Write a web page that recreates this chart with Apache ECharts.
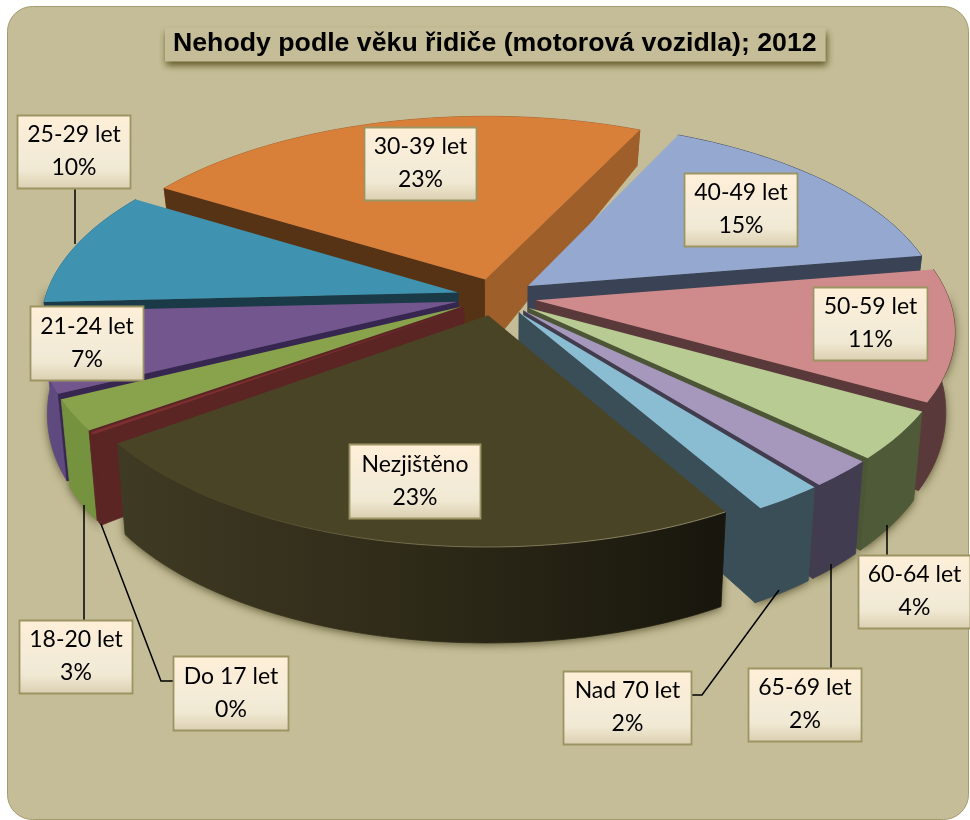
<!DOCTYPE html>
<html><head><meta charset="utf-8">
<style>html,body{margin:0;padding:0;background:#fff}#c{width:970px;height:820px}</style>
<script src="https://cdn.jsdelivr.net/npm/echarts@6/dist/echarts.min.js"></script>
</head><body><div id="c"></div>
<script>
const titleText = 'Nehody podle věku řidiče (motorová vozidla); 2012';
const categories = ['30-39 let','40-49 let','50-59 let','60-64 let','65-69 let','Nad 70 let','Nezjištěno','Do 17 let','18-20 let','21-24 let','25-29 let'];
const shares = [23.2,15.4,10.8,3.95,2.25,2.35,23.2,0.2,2.55,6.55,9.6];

const topColors  = ['#D87F3A','#95A8D0','#CF8B8B','#B7CB92','#A697BD','#8BBDD2','#4A4426','#7C2F2E','#88A34B','#73568D','#4093B0'];
const sideColors = ['#9E5F2A','#3A4256','#5A393A','#4C5636','#413C4E','#3A4E57','#1F1C10','#5B2524','#5B7030','#362650','#193A46'];
const startWallColors = ['#573316','#3A4256','#5A393A','#4C5636','#413C4E','#3A4E57','#1F1C10','#5B2524','#5B2524','#362650','#193A46'];
const outerColors = [['#9E5F2A','#9E5F2A'],['#3A4256','#3A4256'],['#5A393A','#5A393A'],['#4E5A38','#4E5A38'],['#413C4F','#413C4F'],['#3A4E57','#3A4E57'],['#3F3A23','#2E2A18','#18160D'],['#5B2524','#5B2524'],['#75923E','#75923E'],['#5F4A80','#5F4A80'],['#2E6F86','#2E6F86']];
const rimSlices = [6];
// label boxes [left, top, right, bottom]
const labelBoxes = [[364,127,476,200],[684,173,797,246],[813,287,927,360],[858,555,970,628],[748,668,861,741],[563,671,691,744],[349,444,480,518],[173,656,288,730],[19,620,132,693],[30,306,143,380],[17,115,130,188]];
// leader lines, per category
const leaders = [null,null,null,[[887,555],[887,525]],[[831,668],[831,564]],[[691,695],[702,695],[779,590]],null,[[173,681],[161,681],[101,524]],[[84,620],[84,505]],null,[[75,188],[75,244]]];

const START = -58.3, CX = 496.5, CY = 297, RX = 419, RY = 194.8, P = 0.1487, EXPLODE = 0.095, R = 0.985;
const total = shares.reduce((a,b)=>a+b,0);
let acc = START;
const spans = shares.map(v=>{const s=acc, e=acc+v/total*360; acc=e; return [s,e];});
const rad = d=>d*Math.PI/180;
const depthRank = spans.map((s,i)=>[-Math.cos(rad((s[0]+s[1])/2)),i]).sort((a,b)=>a[0]-b[0]).map(a=>a[1]);

function upper(X,Y){const s=1/(1-P*Y);return [CX+RX*X*s, CY+RY*Y*s];}
function lower(X,Y){const q=upper(X,Y);const d=75.6+30*Y-10.4*Y*Y;return [CX+(q[0]-CX)*0.98,q[1]+d];}

function renderSlice(params, api){
  const i = api.value(0);
  const [a0,a1] = spans[i];
  const m = rad((a0+a1)/2);
  const ax = EXPLODE*Math.sin(m), ay = -EXPLODE*Math.cos(m);
  const arc=[], front=[];
  const n=Math.max(2,Math.ceil((a1-a0)/1.5));
  for(let k=0;k<=n;k++){
    const t=rad(a0+(a1-a0)*k/n), pt=[ax+R*Math.sin(t),ay-R*Math.cos(t)];
    arc.push(pt);
    if(Math.cos(t)<0.05) front.push(pt);
  }
  const rank = depthRank.indexOf(i)*10+10;
  const kids=[];
  const poly=(pts,fill,z,extra)=>kids.push({type:'polygon',z2:z,silent:true,shape:{points:pts},style:Object.assign({fill:fill,stroke:null},extra||{})});
  // soft ground shadow, below every slice, only under the front of the pie
  if(front.length>1){
    poly(front.map(p=>upper(p[0],p[1])).concat(front.slice().reverse().map(p=>lower(p[0],p[1]))),'#8f8758',1,{shadowBlur:9,shadowColor:'rgba(70,64,30,0.8)',shadowOffsetY:2});
  }
  // outer wall
  const o=outerColors[i];
  const oFill=new echarts.graphic.LinearGradient(0,0,1,0,o.map((c,j)=>({offset:j/(o.length-1),color:c})));
  poly(arc.map(p=>upper(p[0],p[1])).concat(arc.slice().reverse().map(p=>lower(p[0],p[1]))),oFill,rank,{stroke:oFill,lineWidth:0.8});
  // radial walls that face the viewer
  const wall=(p,color)=>poly([upper(ax,ay),upper(p[0],p[1]),lower(p[0],p[1]),lower(ax,ay)],color,rank+1,{stroke:color,lineWidth:0.8});
  if(Math.sin(rad(a0))<0) wall(arc[0],startWallColors[i]);
  if(Math.sin(rad(a1))>0) wall(arc[arc.length-1],sideColors[i]);
  // top face
  poly([upper(ax,ay)].concat(arc.map(p=>upper(p[0],p[1]))),topColors[i],rank+2);
  if(rimSlices.includes(i)){
    kids.push({type:'polyline',z2:rank+3,silent:true,shape:{points:arc.map(p=>upper(p[0],p[1]))},style:{fill:null,lineWidth:1,
      stroke:new echarts.graphic.LinearGradient(1,0,0,0,[{offset:0,color:'rgba(215,205,165,0.55)'},{offset:.55,color:'rgba(215,205,165,0.3)'},{offset:.8,color:'rgba(215,205,165,0)'},{offset:1,color:'rgba(215,205,165,0)'}])}});
  }
  // leader
  if(leaders[i]) kids.push({type:'polyline',z2:900,silent:true,shape:{points:leaders[i]},style:{stroke:'#000',lineWidth:1.5,fill:null}});
  // label
  const b=labelBoxes[i];
  kids.push({type:'rect',z2:1000,silent:true,shape:{x:b[0]+.5,y:b[1]+.5,width:b[2]-b[0],height:b[3]-b[1]},
    style:{stroke:'#9C9563',lineWidth:1.8,fill:new echarts.graphic.LinearGradient(0,0,0,1,[{offset:0,color:'#FFEFD8'},{offset:.6,color:'#F2EBD7'},{offset:.75,color:'#F0E8D2'},{offset:1,color:'#D9CEB0'}])}});
  kids.push({type:'text',z2:1001,silent:true,style:{x:(b[0]+b[2])/2+.5,y:(b[1]+b[3])/2,text:categories[i]+'\n'+Math.round(api.value(1)/total*100)+'%',font:'23px Lato, sans-serif',lineHeight:33,fill:'#000',align:'center',verticalAlign:'middle'}});
  return {type:'group',children:kids};
}

const chart = echarts.init(document.getElementById('c'),null,{renderer:'canvas'});
chart.setOption({
  animation:false,
  backgroundColor:'#fff',
  graphic:[{type:'rect',z:-10,silent:true,shape:{x:7.5,y:6.5,width:961,height:813,r:25},style:{fill:'#C4BD97',stroke:'#A39C6E',lineWidth:1}}],
  title:{text:titleText,left:165,top:28,padding:[3,9,4,8],backgroundColor:'#C4BD97',shadowColor:'rgba(90,82,30,0.95)',shadowBlur:7,shadowOffsetY:4,shadowOffsetX:1,
    textStyle:{fontFamily:'Liberation Sans',fontSize:26.7,lineHeight:26,fontWeight:'bold',color:'#000'}},
  series:[{type:'custom',coordinateSystem:'none',silent:true,renderItem:renderSlice,data:categories.map((c,i)=>({name:c,value:[i,shares[i]]}))}]
});
</script></body></html>
